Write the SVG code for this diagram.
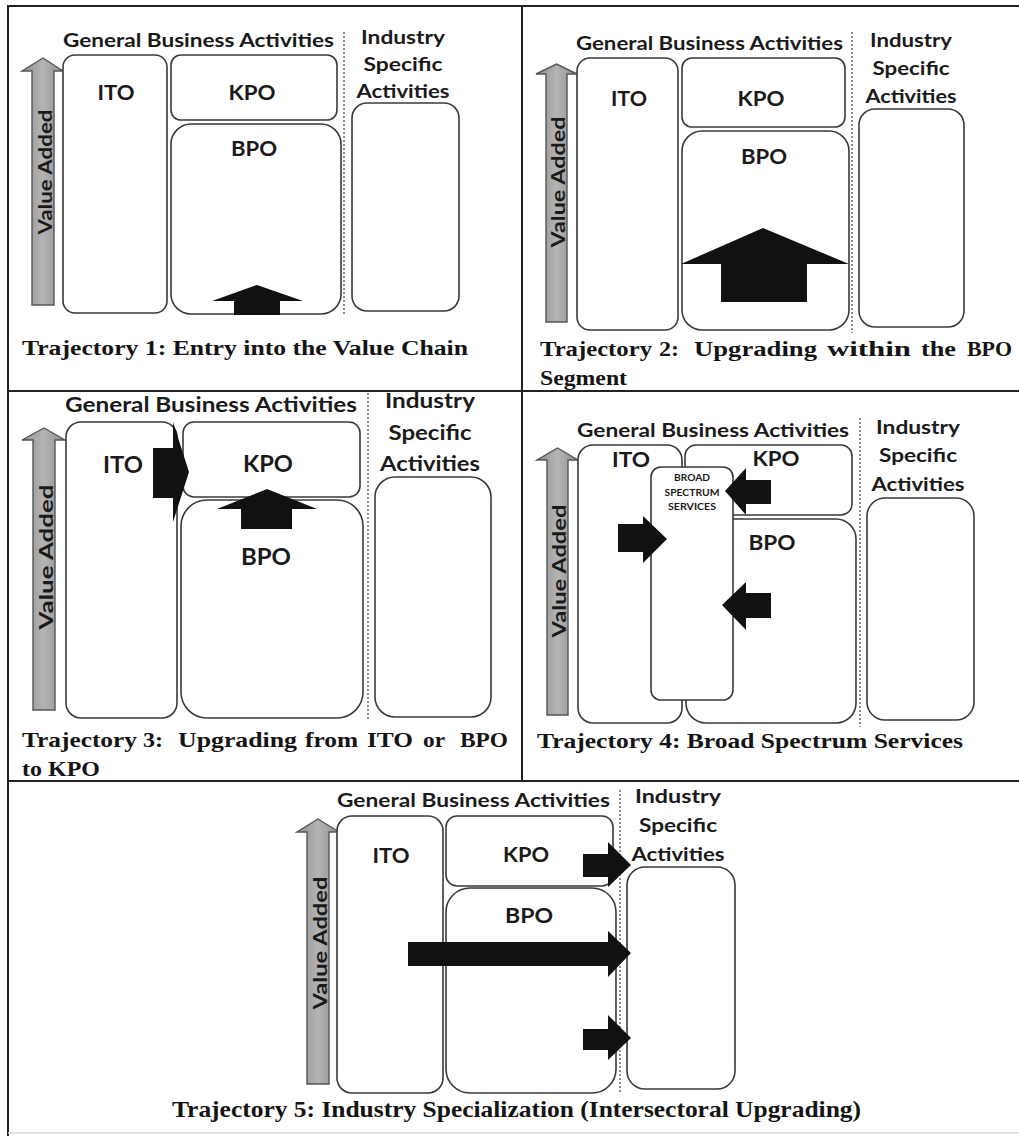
<svg xmlns="http://www.w3.org/2000/svg" width="1019" height="1136" viewBox="0 0 1019 1136">
<defs>
<style>
.bg{fill:#fff}
.frame{stroke:#222;stroke-width:2;fill:none}
.box{fill:#fff;stroke:#3a3a3a;stroke-width:1.6}
.dot{stroke:#444;stroke-width:1.2;stroke-dasharray:2 2;fill:none}
.lbl{font-family:Lato,"Liberation Sans",sans-serif;font-weight:700;fill:#1a1a1a}
.hd{font-size:19px}
.big{font-size:21px;text-anchor:middle}
.ind{font-size:19px;text-anchor:middle}
.va{font-size:18px;text-anchor:middle}
.sm{font-size:9px;text-anchor:middle}
.cap{font-family:"Liberation Serif","Times New Roman",serif;font-weight:700;font-size:22px;fill:#141414}
.varrow{fill:url(#vg);stroke:#555;stroke-width:1.4}
.blk{fill:#111;stroke:none}
</style>
<linearGradient id="vg" x1="0" y1="0" x2="1" y2="0">
<stop offset="0" stop-color="#8e8e8e"/>
<stop offset="0.5" stop-color="#b4b4b4"/>
<stop offset="1" stop-color="#8e8e8e"/>
</linearGradient>
</defs>
<rect class="bg" x="0" y="0" width="1019" height="1136"/>

<g id="frame">
<line class="frame" x1="8" y1="6" x2="1019" y2="6"/>
<line class="frame" x1="8" y1="5" x2="8" y2="1136"/>
<line class="frame" x1="8" y1="391" x2="1019" y2="391"/>
<line class="frame" x1="522" y1="6" x2="522" y2="781"/>
<line class="frame" x1="8" y1="781" x2="1019" y2="781"/>
<line x1="8" y1="1133" x2="1019" y2="1133" stroke="#d8d8d8" stroke-width="1.5"/>
</g>

<!-- Panel 1 -->
<g id="panel1">
<text class="lbl hd" x="63" y="47" textLength="271" lengthAdjust="spacingAndGlyphs">General Business Activities</text>
<line class="dot" x1="344" y1="32" x2="344" y2="315"/>
<g id="p1-isa-label">
<text class="lbl ind" x="403" y="44" textLength="84" lengthAdjust="spacingAndGlyphs">Industry</text>
<text class="lbl ind" x="403" y="71" textLength="79" lengthAdjust="spacingAndGlyphs">Specific</text>
<text class="lbl ind" x="403" y="98" textLength="93" lengthAdjust="spacingAndGlyphs">Activities</text>
</g>
<g id="p1-value"><path class="varrow" d="M32,305 L32,71 L22,71 L43,58 L63,71 L54,71 L54,305 Z"/>
<text class="lbl va" transform="translate(52,172) rotate(-90)" textLength="125" lengthAdjust="spacingAndGlyphs">Value Added</text></g>
<g id="p1-ito"><rect class="box" x="63" y="55" width="104" height="258" rx="12"/><text class="lbl big" x="116" y="100" textLength="37" lengthAdjust="spacingAndGlyphs">ITO</text></g>
<g id="p1-kpo"><rect class="box" x="171" y="55" width="166" height="65" rx="10"/><text class="lbl big" x="252" y="100" textLength="47" lengthAdjust="spacingAndGlyphs">KPO</text></g>
<g id="p1-bpo"><rect class="box" x="171" y="124" width="170" height="190" rx="20"/><text class="lbl big" x="254" y="156" textLength="46" lengthAdjust="spacingAndGlyphs">BPO</text></g>
<g id="p1-isa"><rect class="box" x="352" y="103" width="107" height="208" rx="15"/></g>
<text class="cap" x="22" y="355" textLength="446" lengthAdjust="spacingAndGlyphs">Trajectory 1: Entry into the Value Chain</text>
</g>

<!-- Panel 2 -->
<g id="panel2">
<text class="lbl hd" x="576" y="50" textLength="267" lengthAdjust="spacingAndGlyphs">General Business Activities</text>
<line class="dot" x1="852" y1="32" x2="852" y2="333"/>
<g id="p2-isa-label">
<text class="lbl ind" x="911" y="47" textLength="82" lengthAdjust="spacingAndGlyphs">Industry</text>
<text class="lbl ind" x="911" y="75" textLength="77" lengthAdjust="spacingAndGlyphs">Specific</text>
<text class="lbl ind" x="911" y="103" textLength="91" lengthAdjust="spacingAndGlyphs">Activities</text>
</g>
<g id="p2-value"><path class="varrow" d="M546,322 L546,74 L536,74 L556.5,64 L577,74 L567,74 L567,322 Z"/>
<text class="lbl va" transform="translate(565,182) rotate(-90)" textLength="131" lengthAdjust="spacingAndGlyphs">Value Added</text></g>
<g id="p2-ito"><rect class="box" x="577" y="58" width="101" height="272" rx="13"/><text class="lbl big" x="629" y="106" textLength="36" lengthAdjust="spacingAndGlyphs">ITO</text></g>
<g id="p2-kpo"><rect class="box" x="682" y="58" width="163" height="69" rx="10"/><text class="lbl big" x="761" y="106" textLength="47" lengthAdjust="spacingAndGlyphs">KPO</text></g>
<g id="p2-bpo"><rect class="box" x="682" y="131" width="167" height="199" rx="20"/><text class="lbl big" x="764" y="164" textLength="46" lengthAdjust="spacingAndGlyphs">BPO</text></g>
<g id="p2-isa"><rect class="box" x="859" y="109" width="105" height="218" rx="16"/></g>
<g id="p2-caption" class="cap">
<text x="540" y="356" textLength="112" lengthAdjust="spacingAndGlyphs">Trajectory</text>
<text x="659" y="356" textLength="20" lengthAdjust="spacingAndGlyphs">2:</text>
<text x="694" y="356" textLength="123" lengthAdjust="spacingAndGlyphs">Upgrading</text>
<text x="827" y="356" textLength="84" lengthAdjust="spacingAndGlyphs">within</text>
<text x="921" y="356" textLength="35" lengthAdjust="spacingAndGlyphs">the</text>
<text x="967" y="356" textLength="45" lengthAdjust="spacingAndGlyphs">BPO</text>
<text x="540" y="385" textLength="87" lengthAdjust="spacingAndGlyphs">Segment</text>
</g>
</g>

<!-- Panel 3 -->
<g id="panel3">
<text class="lbl hd" x="65" y="412" textLength="292" lengthAdjust="spacingAndGlyphs" style="font-size:20px">General Business Activities</text>
<line class="dot" x1="368" y1="393" x2="368" y2="720"/>
<g id="p3-isa-label">
<text class="lbl ind" x="430" y="408" textLength="90" lengthAdjust="spacingAndGlyphs" style="font-size:20px">Industry</text>
<text class="lbl ind" x="430" y="440" textLength="83" lengthAdjust="spacingAndGlyphs" style="font-size:20px">Specific</text>
<text class="lbl ind" x="430" y="471" textLength="100" lengthAdjust="spacingAndGlyphs" style="font-size:20px">Activities</text>
</g>
<g id="p3-value"><path class="varrow" d="M33,710 L33,440 L22,440 L44,428 L65,440 L55,440 L55,710 Z"/>
<text class="lbl va" transform="translate(53,557) rotate(-90)" textLength="145" lengthAdjust="spacingAndGlyphs" style="font-size:19px">Value Added</text></g>
<g id="p3-ito"><rect class="box" x="66" y="422" width="111" height="296" rx="15"/><text class="lbl big" x="123" y="473" textLength="40" lengthAdjust="spacingAndGlyphs" style="font-size:22px">ITO</text></g>
<g id="p3-kpo"><rect class="box" x="183" y="422" width="177" height="75" rx="11"/><text class="lbl big" x="268" y="472" textLength="50" lengthAdjust="spacingAndGlyphs" style="font-size:22px">KPO</text></g>
<g id="p3-bpo"><rect class="box" x="181" y="500" width="182" height="218" rx="26"/><text class="lbl big" x="266" y="565" textLength="50" lengthAdjust="spacingAndGlyphs" style="font-size:22px">BPO</text></g>
<g id="p3-isa"><rect class="box" x="375" y="477" width="116" height="240" rx="20"/></g>
<g id="p3-caption" class="cap">
<text x="22" y="747" textLength="115" lengthAdjust="spacingAndGlyphs">Trajectory</text>
<text x="143" y="747" textLength="20" lengthAdjust="spacingAndGlyphs">3:</text>
<text x="178" y="747" textLength="119" lengthAdjust="spacingAndGlyphs">Upgrading</text>
<text x="305" y="747" textLength="53" lengthAdjust="spacingAndGlyphs">from</text>
<text x="367" y="747" textLength="46" lengthAdjust="spacingAndGlyphs">ITO</text>
<text x="423" y="747" textLength="22" lengthAdjust="spacingAndGlyphs">or</text>
<text x="460" y="747" textLength="48" lengthAdjust="spacingAndGlyphs">BPO</text>
<text x="22" y="776" textLength="78" lengthAdjust="spacingAndGlyphs">to KPO</text>
</g>
</g>

<!-- Panel 4 -->
<g id="panel4">
<text class="lbl hd" x="577" y="437" textLength="272" lengthAdjust="spacingAndGlyphs">General Business Activities</text>
<line class="dot" x1="860" y1="418" x2="860" y2="727"/>
<g id="p4-isa-label">
<text class="lbl ind" x="918" y="434" textLength="84" lengthAdjust="spacingAndGlyphs">Industry</text>
<text class="lbl ind" x="918" y="462" textLength="78" lengthAdjust="spacingAndGlyphs">Specific</text>
<text class="lbl ind" x="918" y="491" textLength="93" lengthAdjust="spacingAndGlyphs">Activities</text>
</g>
<g id="p4-value"><path class="varrow" d="M547,715 L547,460 L537,460 L557.5,448 L578,460 L568,460 L568,715 Z"/>
<text class="lbl va" transform="translate(566,571) rotate(-90)" textLength="133" lengthAdjust="spacingAndGlyphs">Value Added</text></g>
<g id="p4-ito"><rect class="box" x="578" y="445" width="104" height="278" rx="15"/><text class="lbl big" x="631" y="467" textLength="38" lengthAdjust="spacingAndGlyphs">ITO</text></g>
<g id="p4-kpo"><rect class="box" x="685" y="445" width="167" height="70" rx="11"/><text class="lbl big" x="776" y="466" textLength="47" lengthAdjust="spacingAndGlyphs">KPO</text></g>
<g id="p4-bpo"><rect class="box" x="686" y="519" width="170" height="204" rx="20"/><text class="lbl big" x="772" y="550" textLength="47" lengthAdjust="spacingAndGlyphs">BPO</text></g>
<g id="p4-isa"><rect class="box" x="867" y="498" width="107" height="222" rx="18"/></g>
<g id="p4-broad"><rect class="box" x="651" y="467" width="82" height="233" rx="10"/>
<text class="lbl sm" x="692" y="481" textLength="36" lengthAdjust="spacingAndGlyphs">BROAD</text>
<text class="lbl sm" x="692" y="496" textLength="55" lengthAdjust="spacingAndGlyphs">SPECTRUM</text>
<text class="lbl sm" x="692" y="510" textLength="48" lengthAdjust="spacingAndGlyphs">SERVICES</text></g>
<text class="cap" x="537" y="748" textLength="426" lengthAdjust="spacingAndGlyphs">Trajectory 4: Broad Spectrum Services</text>
</g>

<!-- Panel 5 -->
<g id="panel5">
<text class="lbl hd" x="337" y="807" textLength="273" lengthAdjust="spacingAndGlyphs">General Business Activities</text>
<line class="dot" x1="620" y1="790" x2="620" y2="1093"/>
<g id="p5-isa-label">
<text class="lbl ind" x="678" y="803" textLength="86" lengthAdjust="spacingAndGlyphs">Industry</text>
<text class="lbl ind" x="678" y="832" textLength="78" lengthAdjust="spacingAndGlyphs">Specific</text>
<text class="lbl ind" x="678" y="861" textLength="93" lengthAdjust="spacingAndGlyphs">Activities</text>
</g>
<g id="p5-value"><path class="varrow" d="M307,1084 L307,832 L297,832 L318,819 L339,832 L329,832 L329,1084 Z"/>
<text class="lbl va" transform="translate(327,943) rotate(-90)" textLength="133" lengthAdjust="spacingAndGlyphs">Value Added</text></g>
<g id="p5-ito"><rect class="box" x="337" y="816" width="106" height="277" rx="15"/><text class="lbl big" x="391" y="863" textLength="37" lengthAdjust="spacingAndGlyphs">ITO</text></g>
<g id="p5-kpo"><rect class="box" x="446" y="816" width="167" height="70" rx="11"/><text class="lbl big" x="526" y="862" textLength="46" lengthAdjust="spacingAndGlyphs">KPO</text></g>
<g id="p5-bpo"><rect class="box" x="446" y="888" width="170" height="205" rx="24"/><text class="lbl big" x="529" y="923" textLength="48" lengthAdjust="spacingAndGlyphs">BPO</text></g>
<g id="p5-isa"><rect class="box" x="627" y="867" width="108" height="222" rx="18"/></g>
<text class="cap" x="172" y="1117" textLength="689" lengthAdjust="spacingAndGlyphs" style="font-size:23px">Trajectory 5: Industry Specialization (Intersectoral Upgrading)</text>
</g>

<!-- Connectors -->
<g id="connectors">
<path id="a1" class="blk" d="M234,315 L234,301 L212,301 L257,285 L303,301 L280,301 L280,315 Z"/>
<path id="a2" class="blk" d="M721,302 L721,264 L681,264 L763,228 L849,264 L807,264 L807,302 Z"/>
<path id="a3-ito-kpo" class="blk" d="M153,448 L173,448 L173,422 L189,472 L173,522 L173,498 L153,498 Z"/>
<path id="a3-bpo-kpo" class="blk" d="M241,529 L241,509 L217,509 L267,489 L317,509 L292,509 L292,529 Z"/>
<path id="a4-ito" class="blk" d="M618,524 L643,524 L643,516 L667,539 L643,563 L643,552 L618,552 Z"/>
<path id="a4-kpo" class="blk" d="M771,480 L746,480 L746,468 L725,491 L746,515 L746,504 L771,504 Z"/>
<path id="a4-bpo" class="blk" d="M771,593 L746,593 L746,582 L722,605 L746,630 L746,618 L771,618 Z"/>
<path id="a5-kpo" class="blk" d="M583,854 L608,854 L608,842 L631,865 L608,887 L608,877 L583,877 Z"/>
<path id="a5-ito" class="blk" d="M408,942 L608,942 L608,931 L631,953 L608,977 L608,966 L408,966 Z"/>
<path id="a5-bpo" class="blk" d="M583,1029 L608,1029 L608,1015 L631,1038 L608,1060 L608,1050 L583,1050 Z"/>
</g>
</svg>
